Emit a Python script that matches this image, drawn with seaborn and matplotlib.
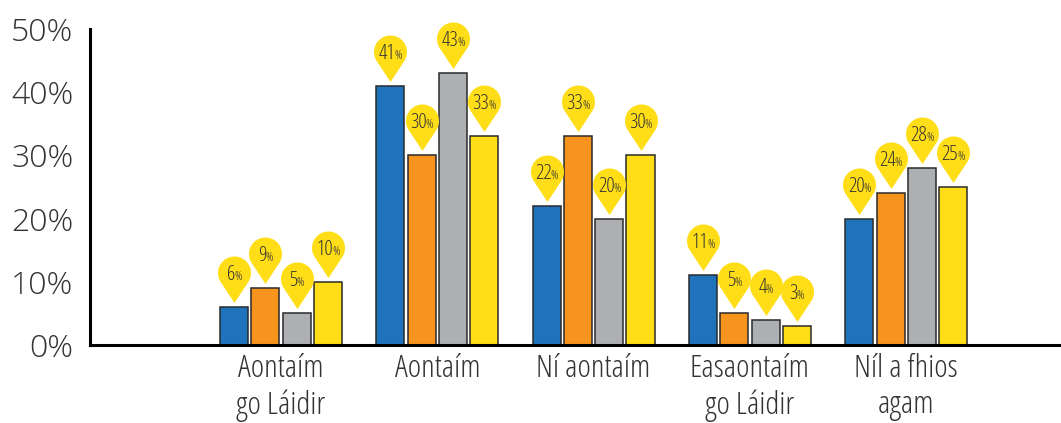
import os
import numpy as np
import pandas as pd
import matplotlib
matplotlib.use("Agg")
import matplotlib.pyplot as plt
from matplotlib.path import Path
from matplotlib import font_manager
import seaborn as sns

# chart data
categories = ["Aontaím\ngo Láidir", "Aontaím", "Ní aontaím",
              "Easaontaím\ngo Láidir", "Níl a fhios\nagam"]
series = ["Sraith 1", "Sraith 2", "Sraith 3", "Sraith 4"]
blue_vals = [6, 41, 22, 11, 20]
orange_vals = [9, 30, 33, 5, 24]
gray_vals = [5, 43, 20, 4, 28]
yellow_vals = [10, 33, 30, 3, 25]
yticks = [0, 10, 20, 30, 40, 50]

colors = ["#1F73BD", "#F7941E", "#ADAFB2", "#FFDE17"]
pin_color = "#FFDE17"
text_color = "#333333"

rows = []
for name, vals in zip(series, [blue_vals, orange_vals, gray_vals, yellow_vals]):
    for cat, v in zip(categories, vals):
        rows.append({"category": cat, "series": name, "value": v})
df = pd.DataFrame(rows)

sns.set_style("white")
plt.rcParams["font.family"] = ["Open Sans", "DejaVu Sans"]


def font_file(basename, **fallback):
    for f in font_manager.fontManager.ttflist:
        if os.path.basename(f.fname) == basename:
            return font_manager.FontProperties(fname=f.fname)
    return font_manager.FontProperties(**fallback)


cond_light = font_file("OpenSans-CondLight.ttf", family="Open Sans", weight="light")
light = font_file("OpenSans-Light.ttf", family="Open Sans", weight="light")

DPI = 100
fig = plt.figure(figsize=(10.61, 4.23), dpi=DPI)
ax = fig.add_axes([90 / 1061, 78 / 423, 971 / 1061, 316 / 423])

sns.barplot(data=df, x="category", y="value", hue="series", order=categories,
            hue_order=series, palette=colors, saturation=1, gap=0.1,
            edgecolor="#2a2a2a", linewidth=1.1, legend=False, ax=ax, zorder=2)

ax.set_xlim(-1.222, 4.99)
ax.set_ylim(0, 50)
ax.set_xlabel("")
ax.set_ylabel("")
ax.set_yticks(yticks)
ax.set_yticklabels([f"{t}%" for t in yticks])
ax.tick_params(axis="y", direction="in", length=16.5, width=2.2, pad=12,
               labelcolor=text_color, color="black")
for lab in ax.get_yticklabels():
    lab.set_fontproperties(light)
    lab.set_fontsize(23)
ax.tick_params(axis="x", length=0, pad=6, labelcolor=text_color)
for lab in ax.get_xticklabels():
    lab.set_fontproperties(cond_light)
    lab.set_fontsize(23)
    lab.set_linespacing(1.17)
for side in ["top", "right"]:
    ax.spines[side].set_visible(False)
for side in ["left", "bottom"]:
    ax.spines[side].set_linewidth(2.2)
    ax.spines[side].set_color("black")

# pin marker (px units): tip 4.5px above bar top, circle centre 34.5px, radius 16.5
r, cy, tip = 16.5, 34.5, 4.5
d = cy - tip
a = np.degrees(np.arccos(r / d))
ang = np.radians(np.linspace(-90 + a, 270 - a, 60))
verts = [(0, tip)] + [(r * np.cos(t), cy + r * np.sin(t)) for t in ang] + [(0, tip)]
pin = Path(verts, [Path.MOVETO] + [Path.LINETO] * (len(verts) - 2) + [Path.CLOSEPOLY])
ms = 2 * (cy + r) * 72 / DPI
px = 72 / DPI
base = cy - 7.5

labels = []
for cont in ax.containers:
    for bar in cont:
        x = bar.get_x() + bar.get_width() / 2
        h = bar.get_height()
        ax.plot([x], [h], marker=pin, ms=ms, color=pin_color, mec="none",
                ls="none", clip_on=False, zorder=3)
        num = ax.annotate(f"{int(round(h))}", (x, h), xytext=(0, base * px),
                          textcoords="offset points", ha="center", va="baseline",
                          fontproperties=cond_light, color=text_color,
                          zorder=4, annotation_clip=False)
        num.set_fontsize(15)
        pct = ax.annotate("%", (x, h), xytext=(0, base * px),
                          textcoords="offset points", ha="left", va="baseline",
                          fontproperties=cond_light, color=text_color,
                          zorder=4, annotation_clip=False)
        pct.set_fontsize(9)
        labels.append((num, pct))

fig.canvas.draw()
rend = fig.canvas.get_renderer()
for num, pct in labels:
    wn = num.get_window_extent(rend).width - 1
    wp = pct.get_window_extent(rend).width
    left = -(wn + wp) / 2
    num.set_ha("left")
    num.xyann = (left * px, num.xyann[1])
    pct.xyann = ((left + wn) * px, pct.xyann[1])

fig.savefig("out.png", dpi=DPI)
